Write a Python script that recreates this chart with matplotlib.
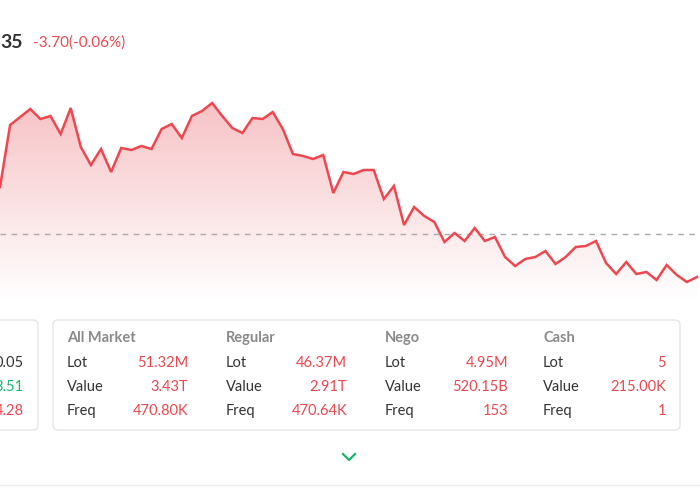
import numpy as np
import matplotlib
matplotlib.use("Agg")
import matplotlib.pyplot as plt
from matplotlib.patches import FancyBboxPatch, Polygon

plt.rcParams['font.family'] = ['Lato', 'DejaVu Sans']

RED = "#f0474f"
GREEN = "#1bb56a"
DARK = "#333333"
GRAY = "#8a8a8a"

# intraday levels (screen rows, converted to price below)
levels = [187, 125, 117, 109, 119, 116, 134, 108, 147, 165, 149, 172, 148, 150, 146,
          149, 129, 124, 138, 116, 111, 103, 116, 128, 133, 118, 119, 112, 129, 154,
          156, 159, 155, 193, 172, 174, 170, 170, 199, 186, 225, 207, 216, 222, 242,
          233, 241, 228, 241, 237, 257, 266, 259, 257, 251, 264, 257, 247, 246, 241,
          263, 274, 262, 274, 272, 280, 265, 275, 282, 277]
prev_close = 6170.0
prices = [prev_close + (234 - v) / 5 for v in levels]

groups = ["All Market", "Regular", "Nego", "Cash"]
row_names = ["Lot", "Value", "Freq"]
group_values = [["51.32M", "3.43T", "470.80K"],
                ["46.37M", "2.91T", "470.64K"],
                ["4.95M", "520.15B", "153"],
                ["5", "215.00K", "1"]]
left_values = ["0.05", "3.51", "4.28"]
left_colors = [DARK, GREEN, RED]

fig = plt.figure(figsize=(7, 5), dpi=100)

# chart
ax = fig.add_axes([0, 0.4, 1, 0.44])
x = np.arange(len(prices))
ymin, ymax = 6156.8, 6200.8
ax.set_xlim(0, 69.3)
ax.set_ylim(ymin, ymax)
ax.axis("off")

grad = np.linspace(0, 1, 256).reshape(-1, 1)
cmap = matplotlib.colors.LinearSegmentedColormap.from_list("f", ["#ffffff", "#f7c3c6"])
img = ax.imshow(grad, extent=[0, 69.3, ymin, max(prices)], origin="lower",
                aspect="auto", cmap=cmap, zorder=1)
poly = Polygon(np.vstack([[0, ymin], np.column_stack([x, prices]), [x[-1], ymin]]),
               closed=True, transform=ax.transData, facecolor="none", edgecolor="none")
ax.add_patch(poly)
img.set_clip_path(poly)
ax.axhline(prev_close, color="#aaaaaa", lw=1, ls=(0, (4, 4)), zorder=2)
ax.plot(x, prices, color=RED, lw=1.8, zorder=3, solid_joinstyle="miter")

# overlay in pixel coordinates
ov = fig.add_axes([0, 0, 1, 1])
ov.set_xlim(0, 700)
ov.set_ylim(500, 0)
ov.axis("off")

ov.text(0, 43, "35", fontsize=14, fontweight="bold", color=DARK, va="center")
ov.text(33, 43, "-3.70(-0.06%)", fontsize=11, color=RED, va="center")

for bx, bw in [(-20, 58), (53, 627)]:
    ov.add_patch(FancyBboxPatch((bx, 320), bw, 110, boxstyle="round,pad=0,rounding_size=5",
                                facecolor="white", edgecolor="#e6e6e6", lw=1))

rows_y = [363, 387, 411]
for v, c, yy in zip(left_values, left_colors, rows_y):
    ov.text(24, yy, v, fontsize=10.5, color=c, ha="right", va="center")

label_x = [67, 226, 385, 543]
value_x = [188, 347, 508, 666]
for g, lx, vx, vals in zip(groups, label_x, value_x, group_values):
    ov.text(lx, 338, g, fontsize=10.5, fontweight="bold", color=GRAY, va="center")
    for name, val, yy in zip(row_names, vals, rows_y):
        ov.text(lx, yy, name, fontsize=10.5, color=DARK, va="center")
        ov.text(vx, yy, val, fontsize=10.5, color=RED, ha="right", va="center")

ov.plot([343, 349, 355], [454, 460, 454], color=GREEN, lw=1.6)
ov.plot([0, 700], [485, 485], color="#eeeeee", lw=1)

fig.savefig("out.png", dpi=100)
